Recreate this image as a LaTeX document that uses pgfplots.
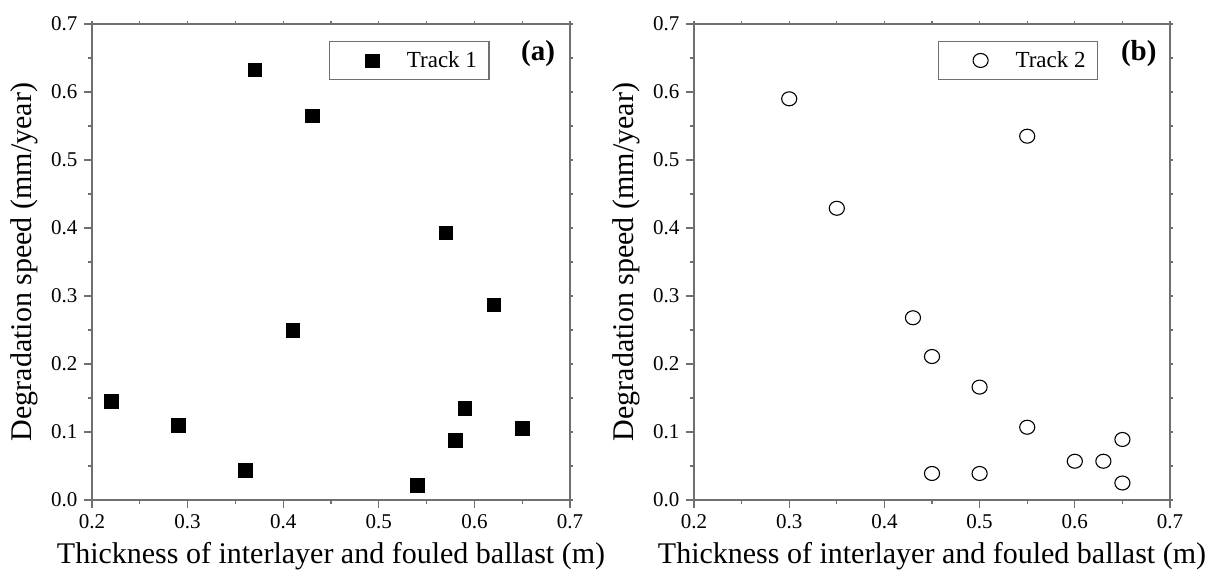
\documentclass[border=0pt]{standalone}
\usepackage{fontspec}
\setmainfont{Liberation Serif}
\usepackage{pgfplots}
\pgfplotsset{compat=1.18}
\definecolor{axisgray}{RGB}{112,112,112}

\pgfplotsset{
  % common look of both panels
  panel/.style={
    scale only axis,
    height=476pt,
    xmin=0.2, xmax=0.7, ymin=0, ymax=0.7,
    xtick={0.2,0.3,0.4,0.5,0.6,0.7},
    ytick={0,0.1,0.2,0.3,0.4,0.5,0.6,0.7},
    minor x tick num=1, minor y tick num=1,
    xtick pos=left, ytick pos=left,
    tick align=outside,
    major tick length=8pt, minor tick length=4pt,
    axis line style={axisgray, line width=1.4pt},
    every tick/.style={axisgray, line width=1.2pt},
    xticklabel={\pgfmathprintnumber[fixed,fixed zerofill,precision=1,assume math mode=true]{\tick}},
    yticklabel={\pgfmathprintnumber[fixed,fixed zerofill,precision=1,assume math mode=true]{\tick}},
    tick label style={font=\fontsize{21}{25}\selectfont, black},
    xticklabel style={yshift=-3pt},
    yticklabel style={xshift=-3pt},
    label style={font=\fontsize{30}{36}\selectfont},
    xlabel={Thickness of interlayer and fouled ballast (m)},
    ylabel={Degradation speed (mm/year)},
    xlabel style={at={(axis description cs:0.5,-0.117)}, anchor=center},
    ylabel style={at={(axis description cs:-0.142,0.5)}, anchor=center},
    legend style={draw=axisgray, line width=1.2pt, inner xsep=6pt, inner ysep=10pt,
      font=\fontsize{23}{27}\selectfont, nodes={inner sep=0pt}, anchor=north west},
    clip=false,
  },
  % short outward ticks on the top and right edges
  frame/.style={
    scale only axis,
    height=476pt,
    xmin=0.2, xmax=0.7, ymin=0, ymax=0.7,
    xtick={0.2,0.25,...,0.71},
    ytick={0,0.05,...,0.71},
    xtick pos=right, ytick pos=right,
    tick align=outside,
    major tick length=2.5pt,
    xticklabels={}, yticklabels={},
    axis line style={axisgray, line width=1.4pt},
    every tick/.style={axisgray, line width=1.2pt},
  },
}

\pgfplotstableread{
x    y
0.22 0.145
0.29 0.110
0.36 0.044
0.37 0.633
0.41 0.250
0.43 0.565
0.54 0.022
0.57 0.393
0.58 0.088
0.59 0.135
0.62 0.287
0.65 0.106
}\trackone

\pgfplotstableread{
x    y
0.30 0.590
0.35 0.429
0.43 0.268
0.45 0.211
0.45 0.039
0.50 0.166
0.50 0.039
0.55 0.535
0.55 0.107
0.60 0.057
0.63 0.057
0.65 0.089
0.65 0.025
}\tracktwo

\begin{document}
\begin{tikzpicture}
\path[use as bounding box] (0pt,0pt) rectangle (1206pt,580pt);

% panel (a)
\begin{axis}[frame, at={(92pt,80pt)}, anchor=south west, width=478pt]
\end{axis}
\begin{axis}[panel, at={(92pt,80pt)}, anchor=south west, width=478pt,
  legend style={at={(axis description cs:0.496,0.964)}}]
\addplot[only marks, mark=square*, mark size=6.8pt, mark options={fill=black, draw=black, line width=0.3pt},
  legend image code/.code={\path (0pt,0pt) (70pt,0pt); \draw[##1] plot coordinates {(35.7pt,0pt)};}]
  table {\trackone};
\addlegendentry{Track 1\hspace{6pt}\null}
\node[anchor=east, font=\bfseries\fontsize{29}{34}\selectfont] at (axis description cs:0.976,0.938) {(a)};
\end{axis}

% panel (b)
\begin{axis}[frame, at={(694pt,80pt)}, anchor=south west, width=476pt]
\end{axis}
\begin{axis}[panel, at={(694pt,80pt)}, anchor=south west, width=476pt,
  legend style={at={(axis description cs:0.512,0.964)}}]
\addplot[only marks, mark=o, mark size=7pt, mark options={draw=black, line width=1.1pt, xscale=1.08},
  legend image code/.code={\path (0pt,0pt) (70pt,0pt); \draw[##1] plot coordinates {(35.7pt,0pt)};}]
  table {\tracktwo};
\addlegendentry{Track 2\hspace{6pt}\null}
\node[anchor=east, font=\bfseries\fontsize{29}{34}\selectfont] at (axis description cs:0.979,0.938) {(b)};
\end{axis}
\end{tikzpicture}
\end{document}
